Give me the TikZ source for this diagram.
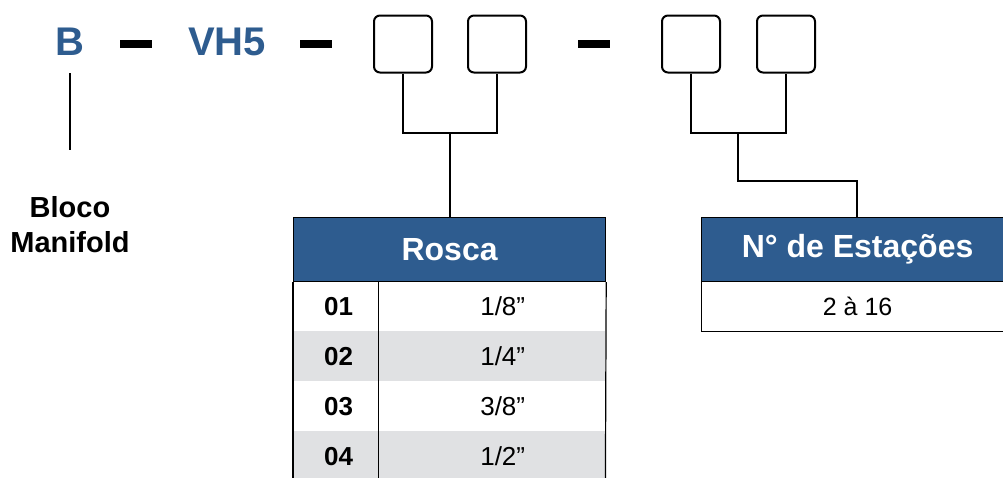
\documentclass[tikz,border=0pt]{standalone}
\usepackage{fontspec}
\setmainfont{Liberation Sans}
\definecolor{hdrblue}{RGB}{46,92,143}
\definecolor{rowgray}{RGB}{224,225,227}
\begin{document}
\begin{tikzpicture}[x=1pt,y=-1pt,
  code/.style={font=\fontsize{40}{42}\selectfont\bfseries, text=hdrblue, inner sep=0},
  dashbar/.style={fill=black, minimum width=32pt, minimum height=8pt, inner sep=0},
  slot/.style={draw, line width=2pt, rounded corners=6pt, minimum width=58pt, minimum height=57pt, inner sep=0},
  link/.style={line width=2pt},
  hdr/.style={fill=hdrblue, draw=black, line width=1.2pt, text=white, inner sep=0,
    font=\fontsize{32}{34}\selectfont\bfseries, anchor=north west},
  keycell/.style={inner sep=0, minimum width=85pt, minimum height=50pt, anchor=north west,
    font=\fontsize{26}{28}\selectfont\bfseries},
  valcell/.style={inner sep=0, minimum width=227pt, minimum height=50pt, anchor=north west,
    font=\fontsize{26}{28}\selectfont},
  frame/.style={line width=1.2pt}
]
\useasboundingbox (0,0) rectangle (1003,477);

% code line
\node[code] (b) at (70,42) {B};
\node[dashbar] (d1) at (136,44) {};
\node[code] (vh) at (227,42) {VH5};
\node[dashbar] (d2) at (316,44) {};
\node[slot] (s1) at (403,44) {};
\node[slot] (s2) at (497,44) {};
\node[dashbar] (d3) at (594,44) {};
\node[slot] (s3) at (691,44) {};
\node[slot] (s4) at (786,44) {};

% Bloco Manifold
\coordinate (bt) at (70,73);
\coordinate (bb) at (70,150);
\draw[line width=1.6pt] (bt) -- (bb);
\node[font=\fontsize{29}{35}\selectfont\bfseries, align=center, inner sep=0] (bloco) at (70,225) {Bloco\\Manifold};

% Rosca table
\node[hdr, minimum width=312pt, minimum height=64pt] (rosca) at (293,217) {Rosca};
\fill[rowgray] (293,331) rectangle (605,381);
\fill[rowgray] (293,431) rectangle (605,482);
\node[keycell] (k1) at (293,281) {\hspace{6pt}01};
\node[valcell] (v1) at (378,281) {\hspace{22pt}1/8”};
\node[keycell] (k2) at (293,331) {\hspace{6pt}02};
\node[valcell] (v2) at (378,331) {\hspace{22pt}1/4”};
\node[keycell] (k3) at (293,381) {\hspace{6pt}03};
\node[valcell] (v3) at (378,381) {\hspace{22pt}3/8”};
\node[keycell] (k4) at (293,431) {\hspace{6pt}04};
\node[valcell] (v4) at (378,431) {\hspace{22pt}1/2”};
\draw[frame] (rosca.south west) -- (k4.south west);
\draw[frame] (rosca.south east) -- (v4.south east);
\draw[frame] (k1.north east) -- (k4.south east);

% Estacoes table
\node[hdr, minimum width=312pt, minimum height=64pt] (est) at (701,217) {N° de Estações};
\node[inner sep=0, minimum width=312pt, minimum height=50pt, anchor=north west, draw=black, line width=1.2pt,
  font=\fontsize{25}{27}\selectfont] (n1) at (701,281) {2 à 16};

% connectors
\coordinate (j1) at (450,133);
\draw[link] (s1.south) |- (j1) -| (s2.south);
\draw[link] (j1) -- (rosca.north -| j1);
\coordinate (j2) at (738,133);
\coordinate (e1) at (738,181);
\coordinate (e2) at (857,181);
\draw[link] (s3.south) |- (j2) -| (s4.south);
\draw[link] (j2) -- (e1) -- (e2) -- (est.north -| e2);
\end{tikzpicture}
\end{document}
